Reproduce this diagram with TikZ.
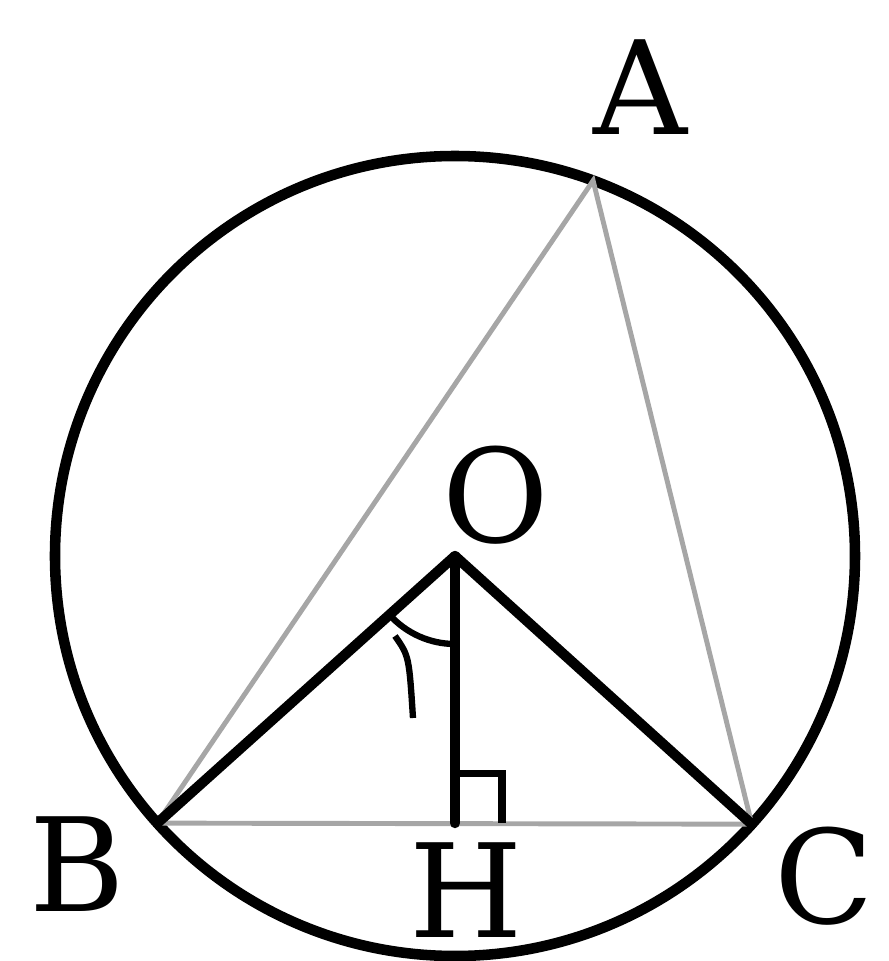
\documentclass[tikz,border=0pt]{standalone}
\usepackage{fontspec}
\setmainfont{DejaVu Serif}
\usepackage{tikz}
\usetikzlibrary{positioning,calc}
\begin{document}
\begin{tikzpicture}[
        thickline/.style={line width=2.9pt, line cap=round, line join=round},
        thinline/.style={line width=1.4pt, gray!70},
        lbl/.style={font=\fontsize{37}{38}\selectfont, inner sep=0pt},
      ]
        \useasboundingbox (-4.55,-4.05) rectangle (4.33,5.56);
        % points on the circle
        \coordinate (O) at (0,0);
        \coordinate (A) at (69.8:4);
        \coordinate (B) at (221.9:4);
        \coordinate (C) at (-42.1:4);
        \coordinate (H) at (O |- B);
        % circle
        \draw[line width=3pt] (O) circle (4);
        % triangle ABC
        \draw[thinline] (A) -- (B) -- (C) -- cycle;
        % radii and height
        \draw[thickline] (B) -- (O) -- (C);
        \draw[thickline] (O) -- (H);
        % right angle mark
        \draw[line width=2pt] ($(H)+(0,0.5)$) -- ++(0.47,0) -- ++(0,-0.5);
        % angle mark at O
        \draw[line width=1.8pt] ($(O)+(221.9:0.88)$) arc[start angle=221.9, end angle=270, radius=0.88];
        \draw[line width=1.8pt] (-0.6,-0.8) .. controls (-0.46,-1.0) .. (-0.42,-1.62);
        % labels
        \node[lbl] (labA) at (1.85,4.69) {A};
        \node[lbl] (labB) at (-3.78,-3.08) {B};
        \node[lbl] (labC) at (3.69,-3.2) {C};
        \node[lbl] (labH) at (0.11,-3.34) {H};
        \node[lbl] (labO) at (0.41,0.61) {O};
      \end{tikzpicture}
\end{document}
